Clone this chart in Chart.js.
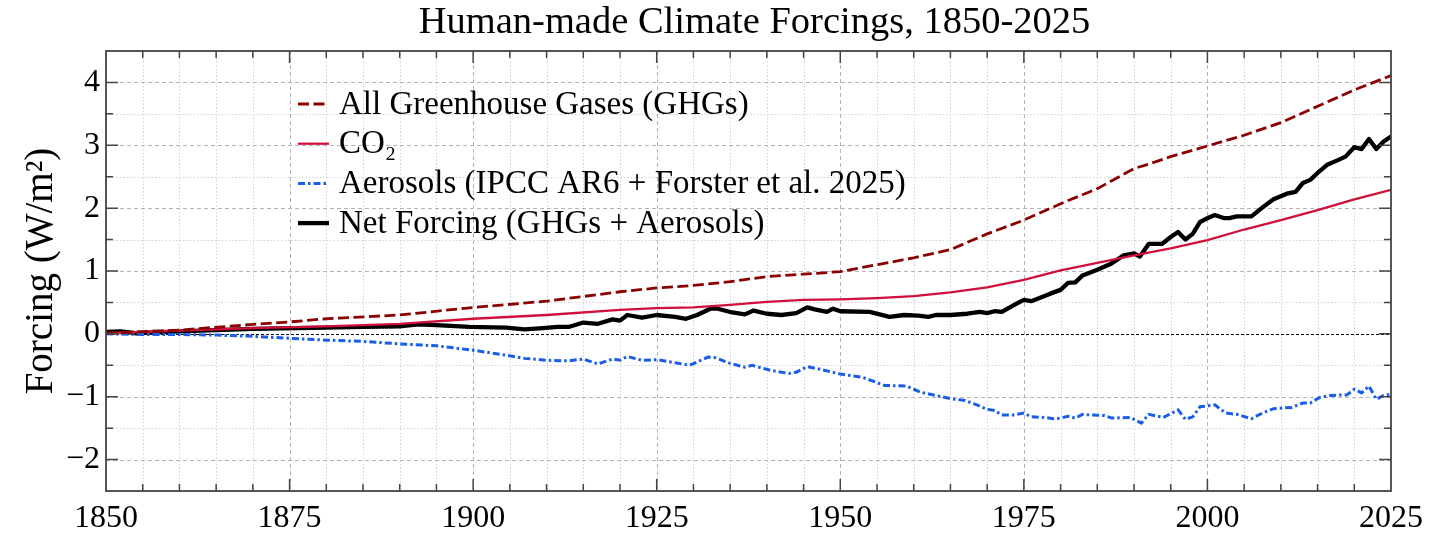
<!DOCTYPE html>
<html>
<head>
<meta charset="utf-8">
<script src="https://cdn.jsdelivr.net/npm/chart.js@4.4.1/dist/chart.umd.min.js"></script>
<style>
    html, body { margin: 0; padding: 0; background: #fff; }
</style>
</head>
<body>
<canvas id="forcingChart" width="1456" height="546"></canvas>
<script>
// Axis ranges and labelled ticks
const xMin = 1850, xMax = 2025;
const yMin = -2.5, yMax = 4.5;
const xTickLabels = [1850, 1875, 1900, 1925, 1950, 1975, 2000, 2025];
const yTickLabels = [-2, -1, 0, 1, 2, 3, 4];

const chartTitle = 'Human-made Climate Forcings, 1850-2025';
const seriesLabels = [
    'All Greenhouse Gases (GHGs)',
    'CO₂',
    'Aerosols (IPCC AR6 + Forster et al. 2025)',
    'Net Forcing (GHGs + Aerosols)'
];

// [year, W/m²]
const ghgPoints = [
    [1850, 0.01], [1860, 0.06], [1870, 0.15], [1875, 0.19], [1880, 0.24], [1890, 0.30],
    [1900, 0.42], [1910, 0.52], [1920, 0.67], [1925, 0.73], [1930, 0.77], [1935, 0.83],
    [1940, 0.91], [1945, 0.95], [1950, 0.99], [1955, 1.10], [1960, 1.21], [1965, 1.34],
    [1970, 1.59], [1975, 1.81], [1980, 2.07], [1985, 2.31], [1990, 2.63], [1992, 2.70],
    [1995, 2.82], [2000, 2.99], [2005, 3.16], [2010, 3.36], [2015, 3.62], [2020, 3.88],
    [2025, 4.11]
];

const co2Points = [
    [1850, 0.01], [1860, 0.05], [1870, 0.09], [1880, 0.12], [1890, 0.16], [1900, 0.24],
    [1910, 0.30], [1920, 0.38], [1925, 0.41], [1930, 0.42], [1935, 0.46], [1940, 0.51],
    [1945, 0.54], [1950, 0.55], [1955, 0.57], [1960, 0.60], [1965, 0.66], [1970, 0.74],
    [1975, 0.86], [1980, 1.01], [1985, 1.13], [1990, 1.25], [1995, 1.36], [2000, 1.49],
    [2005, 1.66], [2010, 1.81], [2015, 1.97], [2020, 2.14], [2025, 2.29]
];

const aerosolPoints = [
    [1850, 0], [1855, -0.01], [1860, -0.01], [1865, -0.02], [1870, -0.04], [1875, -0.07],
    [1880, -0.10], [1885, -0.12], [1890, -0.16], [1895, -0.19], [1900, -0.26], [1904.5, -0.34],
    [1907, -0.39], [1910, -0.42], [1913, -0.43], [1915, -0.40], [1917, -0.48], [1919, -0.40],
    [1920, -0.42], [1921, -0.36], [1923, -0.42], [1925, -0.41], [1927.5, -0.46], [1929.5, -0.50],
    [1932, -0.37], [1933, -0.38], [1935, -0.47], [1937, -0.53], [1938, -0.50], [1940.5, -0.58],
    [1943, -0.63], [1944, -0.61], [1945.5, -0.52], [1947.5, -0.57], [1950, -0.64], [1953, -0.69],
    [1956, -0.82], [1959, -0.83], [1961, -0.93], [1963, -0.98], [1965, -1.03], [1967, -1.06],
    [1968.6, -1.13], [1970, -1.20], [1971, -1.22], [1972, -1.29], [1973.6, -1.29], [1975, -1.26],
    [1976, -1.32], [1978, -1.33], [1979, -1.35], [1980, -1.34], [1981, -1.31], [1982, -1.34],
    [1983, -1.28], [1984, -1.29], [1986, -1.30], [1987, -1.34], [1989.5, -1.33], [1991, -1.42],
    [1992, -1.28], [1994, -1.33], [1996, -1.21], [1997, -1.36], [1998, -1.32], [1999, -1.16],
    [2001, -1.13], [2002.5, -1.26], [2004, -1.28], [2006, -1.35], [2007.5, -1.26], [2009, -1.19],
    [2011.5, -1.17], [2013, -1.10], [2014, -1.10], [2015.3, -1.01], [2016.7, -0.98], [2019, -0.97],
    [2020, -0.88], [2021, -0.94], [2022, -0.83], [2023, -1.04], [2024, -0.98], [2025, -0.96]
];

const netPoints = [
    [1850, 0.03], [1852, 0.04], [1854, 0.01], [1860, 0.04], [1870, 0.08], [1880, 0.10],
    [1885, 0.11], [1890, 0.12], [1892.5, 0.15], [1895, 0.14], [1899.5, 0.11], [1904.5, 0.10],
    [1907, 0.07], [1909.5, 0.09], [1911.5, 0.11], [1913, 0.11], [1915, 0.18], [1917, 0.16],
    [1919, 0.23], [1920, 0.21], [1921, 0.30], [1923, 0.26], [1925, 0.30], [1927.5, 0.27],
    [1929, 0.24], [1930.5, 0.30], [1932.3, 0.40], [1933.3, 0.40], [1935.3, 0.34], [1937, 0.31],
    [1938.2, 0.37], [1940, 0.32], [1942, 0.30], [1944, 0.33], [1945.5, 0.42], [1946.5, 0.39],
    [1948.2, 0.35], [1949, 0.40], [1950, 0.36], [1954, 0.35], [1956.7, 0.27], [1958.7, 0.30],
    [1960.6, 0.29], [1962, 0.27], [1963, 0.30], [1965, 0.30], [1967.3, 0.32], [1969, 0.35],
    [1970, 0.33], [1971, 0.36], [1972, 0.35], [1974, 0.48], [1975, 0.54], [1976, 0.52],
    [1978.6, 0.64], [1980, 0.70], [1981, 0.81], [1982, 0.82], [1983, 0.93], [1985, 1.02],
    [1986.8, 1.11], [1988.6, 1.25], [1990, 1.28], [1990.8, 1.23], [1992, 1.43], [1993.8, 1.43],
    [1995, 1.54], [1996, 1.62], [1997, 1.50], [1998, 1.59], [1999, 1.78], [2000, 1.84],
    [2001, 1.89], [2002.3, 1.84], [2003, 1.84], [2004, 1.87], [2006, 1.87], [2007.6, 2.02],
    [2009, 2.14], [2010.8, 2.23], [2012, 2.26], [2013, 2.40], [2014, 2.45], [2015, 2.56],
    [2016.3, 2.69], [2017.7, 2.76], [2018.8, 2.82], [2020, 2.97], [2021, 2.94], [2022, 3.10],
    [2023, 2.94], [2024, 3.06], [2025, 3.14]
];

const SERIF = "'Liberation Serif', 'Times New Roman', serif";

const toXY = pts => pts.map(([x, y]) => ({ x: x, y: y }));
const fmtNum = v => (v < 0 ? '\u2212' + Math.abs(v) : String(v));

// Grid, zero line, inward ticks and frame (matplotlib look)
const framePlugin = {
    id: 'frame',
    beforeDatasetsDraw(chart) {
        const { ctx, chartArea: a, scales: { x, y } } = chart;
        ctx.save();
        ctx.lineWidth = 1;
        for (let v = xMin + 5; v < xMax; v += 5) {
            const px = Math.round(x.getPixelForValue(v)) + 0.5;
            const major = v % 25 === 0;
            ctx.strokeStyle = major ? '#b4b4b4' : '#d2d2d2';
            ctx.setLineDash(major ? [4, 3] : [1.5, 2]);
            ctx.beginPath(); ctx.moveTo(px, a.top); ctx.lineTo(px, a.bottom); ctx.stroke();
        }
        for (let v = yMin + 0.5; v < yMax; v += 0.5) {
            if (v === 0) continue;
            const py = Math.round(y.getPixelForValue(v)) + 0.5;
            const major = Number.isInteger(v);
            ctx.strokeStyle = major ? '#b4b4b4' : '#d2d2d2';
            ctx.setLineDash(major ? [4, 3] : [1.5, 2]);
            ctx.beginPath(); ctx.moveTo(a.left, py); ctx.lineTo(a.right, py); ctx.stroke();
        }
        // zero line
        const y0 = Math.round(y.getPixelForValue(0)) + 0.5;
        ctx.strokeStyle = '#000';
        ctx.lineWidth = 1.2;
        ctx.setLineDash([3, 2]);
        ctx.beginPath(); ctx.moveTo(a.left, y0); ctx.lineTo(a.right, y0); ctx.stroke();
        ctx.restore();
    },
    afterDatasetsDraw(chart) {
        const { ctx, chartArea: a, scales: { x, y } } = chart;
        ctx.save();
        ctx.strokeStyle = '#444';
        ctx.lineWidth = 1.5;
        ctx.setLineDash([]);
        ctx.beginPath();
        for (let v = xMin + 5; v < xMax; v += 5) {
            const px = x.getPixelForValue(v);
            const len = v % 25 === 0 ? 12 : 7;
            ctx.moveTo(px, a.bottom); ctx.lineTo(px, a.bottom - len);
            ctx.moveTo(px, a.top); ctx.lineTo(px, a.top + len);
        }
        for (let v = yMin + 0.5; v < yMax; v += 0.5) {
            const py = y.getPixelForValue(v);
            const len = Number.isInteger(v) ? 12 : 7;
            ctx.moveTo(a.left, py); ctx.lineTo(a.left + len, py);
            ctx.moveTo(a.right, py); ctx.lineTo(a.right - len, py);
        }
        ctx.stroke();
        ctx.lineWidth = 1.8;
        ctx.strokeRect(a.left, a.top, a.right - a.left, a.bottom - a.top);

        // title, centred over the plot area
        ctx.font = '38.5px ' + SERIF;
        ctx.fillStyle = '#000';
        ctx.textAlign = 'center';
        ctx.textBaseline = 'alphabetic';
        ctx.fillText(chartTitle, (a.left + a.right) / 2 + 6, 33);
        ctx.restore();
    }
};

// Legend inside the plot, no box
const legendPlugin = {
    id: 'insideLegend',
    afterDatasetsDraw(chart) {
        const { ctx, chartArea: a } = chart;
        const x0 = a.left + 192, y0 = a.top + 53, rowH = 39.7;
        ctx.save();
        ctx.font = '33px ' + SERIF;
        ctx.fillStyle = '#000';
        ctx.textBaseline = 'middle';
        chart.data.datasets.forEach((ds, i) => {
            const yy = y0 + i * rowH;
            ctx.strokeStyle = ds.borderColor;
            ctx.lineWidth = ds.borderWidth;
            ctx.setLineDash(ds.borderDash || []);
            ctx.beginPath(); ctx.moveTo(x0, yy); ctx.lineTo(x0 + 31, yy); ctx.stroke();
            ctx.fillText(ds.label, x0 + 41, yy + 1);
        });
        ctx.restore();
    }
};

const ctx = document.getElementById('forcingChart').getContext('2d');

new Chart(ctx, {
    type: 'line',
    data: {
        datasets: [{
            label: seriesLabels[0],
            data: toXY(ghgPoints),
            borderColor: '#8b0000',
            borderWidth: 2.8,
            borderDash: [11, 4.5]
        }, {
            label: seriesLabels[1],
            data: toXY(co2Points),
            borderColor: '#d0103a',
            borderWidth: 2.3
        }, {
            label: seriesLabels[2],
            data: toXY(aerosolPoints),
            borderColor: '#1a5ee8',
            borderWidth: 3,
            borderDash: [7, 3, 2.5, 3]
        }, {
            label: seriesLabels[3],
            data: toXY(netPoints),
            borderColor: '#000000',
            borderWidth: 4.3,
            borderJoinStyle: 'round'
        }]
    },
    options: {
        responsive: false,
        animation: false,
        devicePixelRatio: 1,
        layout: { padding: { left: 0, right: 65, top: 51, bottom: 0 } },
        elements: { point: { radius: 0 }, line: { tension: 0, fill: false } },
        plugins: {
            legend: { display: false },
            tooltip: { enabled: false },
            title: { display: false }
        },
        scales: {
            x: {
                type: 'linear',
                min: xMin,
                max: xMax,
                grid: { display: false, drawTicks: false },
                border: { display: false },
                afterBuildTicks: s => { s.ticks = xTickLabels.map(v => ({ value: v })); },
                afterFit: s => { s.height = 55; },
                ticks: {
                    autoSkip: false,
                    maxRotation: 0,
                    padding: 8,
                    color: '#000',
                    font: { family: SERIF, size: 32 },
                    callback: v => String(v)
                }
            },
            y: {
                type: 'linear',
                min: yMin,
                max: yMax,
                grid: { display: false, drawTicks: false },
                border: { display: false },
                afterBuildTicks: s => { s.ticks = yTickLabels.map(v => ({ value: v })); },
                afterFit: s => { s.width = 106; },
                ticks: {
                    autoSkip: false,
                    padding: 6,
                    color: '#000',
                    font: { family: SERIF, size: 32 },
                    callback: v => fmtNum(v)
                },
                title: {
                    display: true,
                    text: 'Forcing (W/m²)',
                    color: '#000',
                    font: { family: SERIF, size: 39, weight: 'normal' },
                    padding: { top: 18, bottom: 0 }
                }
            }
        }
    },
    plugins: [framePlugin, legendPlugin]
});
</script>
</body>
</html>
